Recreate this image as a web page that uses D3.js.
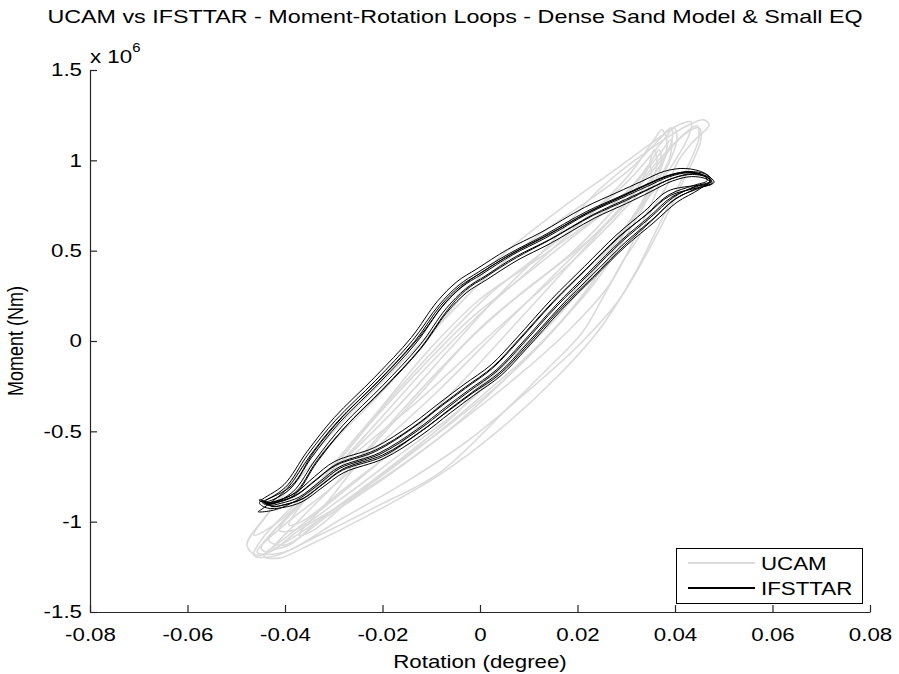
<!DOCTYPE html>
<html>
<head>
<meta charset="utf-8">
<script src="https://cdn.jsdelivr.net/npm/d3@7"></script>
<style>
  html, body { margin: 0; padding: 0; background: #ffffff; }
  svg { display: block; }
  text { font-family: "Liberation Sans", Arial, Helvetica, sans-serif; fill: #000; }
</style>
</head>
<body>
<svg id="chart" width="899" height="674"></svg>
<script>
// ---------------- DATA ----------------
const titleText = "UCAM vs IFSTTAR - Moment-Rotation Loops - Dense Sand Model & Small EQ";
const xLabel = "Rotation (degree)";
const yLabel = "Moment (Nm)";
const seriesNames = ["UCAM", "IFSTTAR"];

const xTicks = [-0.08, -0.06, -0.04, -0.02, 0, 0.02, 0.04, 0.06, 0.08];
const xTickLabels = ["-0.08", "-0.06", "-0.04", "-0.02", "0", "0.02", "0.04", "0.06", "0.08"];
const yTicks = [-1.5, -1, -0.5, 0, 0.5, 1, 1.5];          // moment, x 10^6 Nm
const yTickLabels = ["-1.5", "-1", "-0.5", "0", "0.5", "1", "1.5"];

// UCAM loops: [rotation (deg), moment (x1e6 Nm)]
const ucamLoop1 = [[-0.0464,-1.186],[-0.0449,-1.102],[-0.0371,-0.881],[-0.0269,-0.632],[-0.0166,-0.355],[-0.0064,-0.050],[0.0039,0.255],[0.0142,0.532],[0.0244,0.837],[0.0347,1.058],[0.0429,1.197],[0.0459,1.224],[0.0470,1.197],[0.0435,1.097],[0.0408,1.003],[0.0382,0.853],[0.0353,0.726],[0.0326,0.576],[0.0291,0.432],[0.0258,0.270],[0.0209,0.044],[0.0142,-0.144],[0.0053,-0.382],[-0.0084,-0.731],[-0.0207,-0.909],[-0.0330,-1.075],[-0.0423,-1.191]];
const ucamLoop2 = [[-0.0478,-1.130],[-0.0437,-0.964],[-0.0371,-0.759],[-0.0289,-0.521],[-0.0207,-0.299],[-0.0125,-0.050],[-0.0043,0.227],[0.0039,0.460],[0.0168,0.737],[0.0271,0.936],[0.0347,1.086],[0.0408,1.197],[0.0433,1.213],[0.0429,1.141],[0.0388,0.947],[0.0326,0.726],[0.0244,0.449],[0.0142,0.116],[0.0039,-0.161],[-0.0064,-0.438],[-0.0166,-0.659],[-0.0289,-0.909],[-0.0392,-1.102],[-0.0457,-1.186]];
const ucamLoop3 = [[-0.0449,-1.147],[-0.0392,-0.964],[-0.0310,-0.742],[-0.0207,-0.438],[-0.0105,-0.133],[-0.0002,0.144],[0.0101,0.393],[0.0203,0.643],[0.0306,0.892],[0.0377,1.114],[0.0398,1.180],[0.0404,1.114],[0.0377,0.920],[0.0326,0.615],[0.0265,0.310],[0.0183,0.061],[0.0080,-0.188],[-0.0023,-0.410],[-0.0146,-0.659],[-0.0269,-0.881],[-0.0371,-1.047],[-0.0433,-1.169]];
const ucamLoop4 = [[-0.0433,-1.102],[-0.0371,-0.909],[-0.0289,-0.659],[-0.0187,-0.327],[-0.0084,-0.022],[0.0018,0.255],[0.0121,0.476],[0.0224,0.698],[0.0306,0.920],[0.0357,1.114],[0.0373,1.169],[0.0384,1.086],[0.0357,0.864],[0.0295,0.560],[0.0224,0.283],[0.0131,0.006],[0.0039,-0.244],[-0.0064,-0.493],[-0.0187,-0.742],[-0.0310,-0.964],[-0.0402,-1.130]];
const ucamLoop5 = [[-0.0412,-1.047],[-0.0330,-0.798],[-0.0228,-0.465],[-0.0125,-0.161],[-0.0023,0.116],[0.0080,0.338],[0.0183,0.560],[0.0285,0.781],[0.0347,0.975],[0.0367,1.058],[0.0371,0.975],[0.0326,0.726],[0.0244,0.421],[0.0162,0.144],[0.0059,-0.133],[-0.0043,-0.382],[-0.0166,-0.632],[-0.0289,-0.881],[-0.0382,-1.047]];
const ucamLoop6 = [[-0.0457,-1.169],[-0.0402,-1.019],[-0.0310,-0.825],[-0.0207,-0.576],[-0.0084,-0.271],[0.0039,0.061],[0.0162,0.393],[0.0265,0.670],[0.0347,0.920],[0.0418,1.141],[0.0449,1.180],[0.0453,1.114],[0.0418,0.892],[0.0357,0.560],[0.0285,0.227],[0.0203,-0.022],[0.0101,-0.271],[-0.0023,-0.548],[-0.0146,-0.770],[-0.0289,-0.992],[-0.0402,-1.169]];
const ucamLoop7 = [[-0.0392,-1.019],[-0.0310,-0.715],[-0.0207,-0.382],[-0.0105,-0.050],[-0.0002,0.227],[0.0101,0.421],[0.0203,0.615],[0.0306,0.837],[0.0367,1.030],[0.0392,1.114],[0.0388,1.003],[0.0336,0.781],[0.0265,0.504],[0.0183,0.227],[0.0080,-0.050],[-0.0023,-0.299],[-0.0146,-0.548],[-0.0269,-0.798],[-0.0361,-0.992]];
const ucamLoop8 = [[-0.0423,-1.147],[-0.0371,-0.992],[-0.0289,-0.770],[-0.0187,-0.465],[-0.0084,-0.161],[0.0018,0.116],[0.0121,0.338],[0.0224,0.560],[0.0306,0.781],[0.0343,0.947],[0.0357,1.058],[0.0363,0.975],[0.0336,0.781],[0.0275,0.504],[0.0203,0.227],[0.0121,-0.022],[0.0018,-0.271],[-0.0105,-0.548],[-0.0228,-0.798],[-0.0330,-0.992],[-0.0392,-1.130]];
const ucamLoop9 = [[-0.0443,-1.191],[-0.0392,-1.075],[-0.0289,-0.853],[-0.0166,-0.576],[-0.0043,-0.244],[0.0080,0.116],[0.0183,0.421],[0.0285,0.726],[0.0367,1.003],[0.0429,1.169],[0.0445,1.191],[0.0449,1.125],[0.0418,0.920],[0.0367,0.643],[0.0316,0.366],[0.0244,0.061],[0.0162,-0.188],[0.0039,-0.493],[-0.0084,-0.742],[-0.0228,-0.964],[-0.0351,-1.130],[-0.0412,-1.202]];
const ucamLoop10 = [[-0.0464,-1.075],[-0.0423,-0.909],[-0.0361,-0.687],[-0.0279,-0.438],[-0.0187,-0.188],[-0.0084,0.089],[0.0018,0.366],[0.0121,0.587],[0.0224,0.781],[0.0306,0.947],[0.0367,1.114],[0.0392,1.180],[0.0394,1.114],[0.0357,0.920],[0.0285,0.698],[0.0203,0.476],[0.0101,0.227],[-0.0002,-0.022],[-0.0125,-0.327],[-0.0248,-0.604],[-0.0351,-0.853],[-0.0423,-1.019]];
const ucamLoop11 = [[-0.0371,-1.075],[-0.0310,-0.881],[-0.0228,-0.604],[-0.0125,-0.299],[-0.0023,0.006],[0.0080,0.255],[0.0183,0.476],[0.0265,0.698],[0.0326,0.892],[0.0347,0.975],[0.0351,0.892],[0.0306,0.643],[0.0234,0.338],[0.0152,0.061],[0.0049,-0.216],[-0.0064,-0.465],[-0.0176,-0.687],[-0.0279,-0.909],[-0.0341,-1.047]];

// IFSTTAR loops
const ifsLoop1 = [[-0.0443,-0.892],[-0.0392,-0.825],[-0.0345,-0.643],[-0.0289,-0.454],[-0.0207,-0.233],[-0.0131,-0.011],[-0.0078,0.188],[-0.0037,0.299],[0.0004,0.370],[0.0066,0.476],[0.0135,0.571],[0.0224,0.709],[0.0291,0.792],[0.0341,0.853],[0.0388,0.909],[0.0429,0.931],[0.0464,0.909],[0.0474,0.881],[0.0443,0.853],[0.0394,0.798],[0.0347,0.687],[0.0291,0.560],[0.0224,0.382],[0.0156,0.199],[0.0086,-0.011],[0.0033,-0.161],[-0.0023,-0.271],[-0.0070,-0.366],[-0.0131,-0.493],[-0.0207,-0.620],[-0.0289,-0.698],[-0.0330,-0.781],[-0.0371,-0.864],[-0.0408,-0.898],[-0.0433,-0.909],[-0.0447,-0.881]];
const ifsLoop2 = [[-0.0438,-0.880],[-0.0386,-0.800],[-0.0340,-0.610],[-0.0282,-0.420],[-0.0200,-0.200],[-0.0125,0.020],[-0.0072,0.210],[-0.0030,0.318],[0.0010,0.392],[0.0070,0.490],[0.0140,0.590],[0.0228,0.720],[0.0295,0.805],[0.0345,0.870],[0.0392,0.920],[0.0433,0.938],[0.0468,0.915],[0.0470,0.875],[0.0440,0.840],[0.0398,0.780],[0.0352,0.665],[0.0297,0.530],[0.0230,0.350],[0.0162,0.170],[0.0092,-0.040],[0.0040,-0.185],[-0.0016,-0.290],[-0.0064,-0.385],[-0.0126,-0.510],[-0.0200,-0.640],[-0.0282,-0.715],[-0.0324,-0.796],[-0.0365,-0.875],[-0.0404,-0.908],[-0.0428,-0.915],[-0.0442,-0.888]];
const ifsLoop3 = [[-0.0435,-0.895],[-0.0380,-0.840],[-0.0335,-0.665],[-0.0278,-0.480],[-0.0198,-0.262],[-0.0122,-0.040],[-0.0070,0.160],[-0.0030,0.280],[0.0012,0.355],[0.0075,0.462],[0.0142,0.558],[0.0232,0.695],[0.0300,0.778],[0.0348,0.842],[0.0395,0.900],[0.0436,0.922],[0.0470,0.900],[0.0476,0.872],[0.0446,0.848],[0.0390,0.805],[0.0342,0.700],[0.0285,0.578],[0.0218,0.400],[0.0150,0.218],[0.0080,0.010],[0.0027,-0.142],[-0.0030,-0.255],[-0.0077,-0.350],[-0.0138,-0.478],[-0.0214,-0.603],[-0.0296,-0.684],[-0.0336,-0.766],[-0.0376,-0.850],[-0.0413,-0.890],[-0.0438,-0.902],[-0.0450,-0.875]];
const ifsLoop4 = [[-0.0450,-0.888],[-0.0400,-0.812],[-0.0353,-0.628],[-0.0296,-0.438],[-0.0214,-0.218],[-0.0138,0.004],[-0.0084,0.200],[-0.0043,0.310],[-0.0003,0.382],[0.0060,0.484],[0.0128,0.580],[0.0218,0.716],[0.0285,0.798],[0.0336,0.860],[0.0383,0.914],[0.0424,0.936],[0.0458,0.918],[0.0466,0.888],[0.0437,0.860],[0.0388,0.810],[0.0340,0.698],[0.0284,0.572],[0.0217,0.394],[0.0149,0.210],[0.0079,0.000],[0.0026,-0.150],[-0.0030,-0.262],[-0.0078,-0.358],[-0.0139,-0.484],[-0.0215,-0.612],[-0.0297,-0.690],[-0.0338,-0.774],[-0.0379,-0.858],[-0.0416,-0.894],[-0.0440,-0.906],[-0.0453,-0.878]];
const ifsLoop5 = [[-0.0430,-0.900],[-0.0384,-0.835],[-0.0337,-0.655],[-0.0281,-0.466],[-0.0199,-0.245],[-0.0123,-0.022],[-0.0070,0.178],[-0.0029,0.290],[0.0012,0.362],[0.0074,0.468],[0.0143,0.562],[0.0232,0.700],[0.0299,0.784],[0.0349,0.846],[0.0396,0.902],[0.0437,0.926],[0.0472,0.905],[0.0480,0.878],[0.0450,0.846],[0.0402,0.790],[0.0355,0.676],[0.0299,0.548],[0.0232,0.370],[0.0164,0.188],[0.0094,-0.022],[0.0041,-0.172],[-0.0015,-0.282],[-0.0062,-0.377],[-0.0123,-0.504],[-0.0199,-0.630],[-0.0281,-0.708],[-0.0322,-0.790],[-0.0363,-0.872],[-0.0400,-0.905],[-0.0425,-0.916],[-0.0440,-0.888]];
const ifsLoop6 = [[-0.0447,-0.930],[-0.0395,-0.815],[-0.0348,-0.632],[-0.0292,-0.445],[-0.0210,-0.225],[-0.0134,-0.002],[-0.0081,0.195],[-0.0040,0.305],[0.0001,0.375],[0.0063,0.480],[0.0132,0.575],[0.0221,0.712],[0.0288,0.796],[0.0338,0.858],[0.0385,0.912],[0.0427,0.934],[0.0462,0.912],[0.0472,0.884],[0.0441,0.856],[0.0396,0.794],[0.0349,0.682],[0.0293,0.555],[0.0226,0.376],[0.0158,0.194],[0.0088,-0.016],[0.0035,-0.166],[-0.0021,-0.276],[-0.0068,-0.372],[-0.0129,-0.498],[-0.0205,-0.626],[-0.0287,-0.704],[-0.0328,-0.788],[-0.0369,-0.870],[-0.0405,-0.920],[-0.0430,-0.940],[-0.0455,-0.945]];
const ifsLoop7 = [[-0.0450,-0.885],[-0.0402,-0.795],[-0.0355,-0.613],[-0.0299,-0.424],[-0.0217,-0.203],[-0.0141,0.019],[-0.0088,0.218],[-0.0047,0.329],[-0.0006,0.400],[0.0056,0.506],[0.0125,0.601],[0.0214,0.739],[0.0281,0.822],[0.0331,0.883],[0.0378,0.939],[0.0421,0.955],[0.0460,0.930],[0.0474,0.895],[0.0450,0.840],[0.0404,0.768],[0.0357,0.657],[0.0301,0.530],[0.0234,0.352],[0.0166,0.169],[0.0096,-0.041],[0.0043,-0.191],[-0.0013,-0.301],[-0.0060,-0.396],[-0.0121,-0.523],[-0.0197,-0.650],[-0.0279,-0.728],[-0.0322,-0.808],[-0.0365,-0.890],[-0.0405,-0.922],[-0.0436,-0.925],[-0.0452,-0.900]];
const ifsLoop8 = [[-0.0436,-0.900],[-0.0382,-0.855],[-0.0335,-0.673],[-0.0279,-0.484],[-0.0197,-0.263],[-0.0121,-0.041],[-0.0068,0.158],[-0.0027,0.269],[0.0014,0.340],[0.0076,0.446],[0.0145,0.541],[0.0234,0.679],[0.0301,0.762],[0.0349,0.825],[0.0394,0.885],[0.0434,0.910],[0.0466,0.895],[0.0474,0.870],[0.0440,0.860],[0.0384,0.828],[0.0337,0.717],[0.0281,0.590],[0.0214,0.412],[0.0146,0.229],[0.0076,0.019],[0.0023,-0.131],[-0.0033,-0.241],[-0.0080,-0.336],[-0.0141,-0.463],[-0.0217,-0.590],[-0.0299,-0.668],[-0.0340,-0.752],[-0.0378,-0.840],[-0.0412,-0.880],[-0.0435,-0.895],[-0.0445,-0.890]];

const ucamLoops = [ucamLoop1, ucamLoop2, ucamLoop3, ucamLoop4, ucamLoop5, ucamLoop6, ucamLoop7, ucamLoop8, ucamLoop9, ucamLoop10, ucamLoop11];
const ifsLoops = [ifsLoop1, ifsLoop2, ifsLoop3, ifsLoop4, ifsLoop5, ifsLoop6, ifsLoop7, ifsLoop8];

// ---------------- CHART ----------------
const svg = d3.select("#chart");
const plot = { left: 90, right: 870, top: 70, bottom: 612 };
const SX = 1.24;   // horizontal stretch of the reference's text

const x = d3.scaleLinear().domain([-0.08, 0.08]).range([plot.left, plot.right]);
const y = d3.scaleLinear().domain([-1.5, 1.5]).range([plot.bottom, plot.top]);

const line = d3.line()
  .x(d => x(d[0]))
  .y(d => y(d[1]))
  .curve(d3.curveCatmullRomClosed.alpha(0.5));

const gData = svg.append("g");
gData.selectAll("path.ucam").data(ucamLoops).join("path")
  .attr("class", "ucam")
  .attr("d", line)
  .attr("fill", "none")
  .attr("stroke", "#dadada")
  .attr("stroke-width", 1.6);

gData.selectAll("path.ifs").data(ifsLoops).join("path")
  .attr("class", "ifs")
  .attr("d", line)
  .attr("fill", "none")
  .attr("stroke", "#000")
  .attr("stroke-width", 1);

// Axes
const xAxis = d3.axisBottom(x).tickValues(xTicks)
  .tickFormat((d, i) => xTickLabels[i]).tickSizeInner(-7).tickSizeOuter(0).tickPadding(16);
const yAxis = d3.axisLeft(y).tickValues(yTicks)
  .tickFormat((d, i) => yTickLabels[i]).tickSizeInner(-7).tickSizeOuter(0).tickPadding(8);

const gx = svg.append("g").attr("transform", `translate(0,${plot.bottom})`).call(xAxis);
const gy = svg.append("g").attr("transform", `translate(${plot.left},0)`).call(yAxis);

[gx, gy].forEach(g => {
  g.select(".domain").attr("stroke", "#262626").attr("stroke-width", 1.2);
  g.selectAll(".tick line").attr("stroke", "#262626").attr("stroke-width", 1.2);
  g.selectAll(".tick text").attr("font-size", 18).attr("fill", "#000")
    .attr("font-family", "'Liberation Sans', Arial, sans-serif");
});
gx.selectAll(".tick text").attr("transform", `scale(${SX},1)`);
gy.selectAll(".tick text").each(function() {
  const t = d3.select(this);
  const xx = +t.attr("x");
  t.attr("x", xx / SX).attr("transform", `scale(${SX},1)`);
});

// Exponent label
const expo = svg.append("text").attr("transform", `translate(90,63) scale(${SX},1)`)
  .attr("font-size", 18);
expo.append("tspan").text("x 10");
expo.append("tspan").attr("font-size", 12).attr("dy", -11).text("6");

// Title
svg.append("text")
  .attr("transform", `translate(455,23) scale(1.295,1)`)
  .attr("text-anchor", "middle")
  .attr("font-size", 18)
  .text(titleText);

// Axis titles
svg.append("text")
  .attr("transform", `translate(480,668) scale(${SX},1)`)
  .attr("text-anchor", "middle")
  .attr("font-size", 18)
  .text(xLabel);

svg.append("text")
  .attr("transform", `translate(23,341) scale(${SX},1) rotate(-90)`)
  .attr("text-anchor", "middle")
  .attr("font-size", 18)
  .text(yLabel);

// Legend
const lg = svg.append("g");
lg.append("rect").attr("x", 676.5).attr("y", 548.5).attr("width", 186).attr("height", 55)
  .attr("fill", "#fff").attr("stroke", "#000").attr("stroke-width", 1);
const legColors = ["#dadada", "#000"];
seriesNames.forEach((name, i) => {
  const yy = 563 + i * 25;
  lg.append("line").attr("x1", 688).attr("x2", 755).attr("y1", yy).attr("y2", yy)
    .attr("stroke", legColors[i]).attr("stroke-width", 2);
  lg.append("text").attr("transform", `translate(761,${yy + 7}) scale(${SX},1)`)
    .attr("font-size", 18).text(name);
});
</script>
</body>
</html>
